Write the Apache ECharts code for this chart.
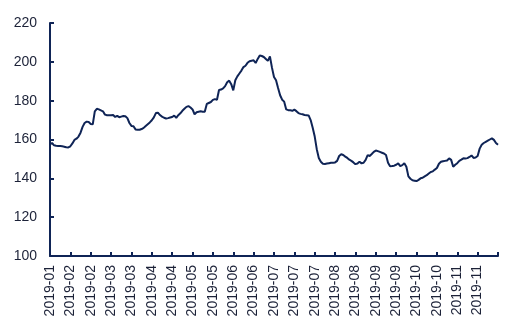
<!DOCTYPE html>
<html>
<head>
<meta charset="utf-8">
<script src="https://cdn.jsdelivr.net/npm/echarts@6/dist/echarts.min.js"></script>
<style>
  html, body { margin: 0; padding: 0; background: #fff; }
  #chart { width: 521px; height: 333px; }
</style>
</head>
<body>
<div id="chart"></div>
<script>
// one label every 10 points along the x axis
var tickLabels = ['2019-01', '2019-02', '2019-02', '2019-03', '2019-03', '2019-04', '2019-04',
    '2019-05', '2019-05', '2019-06', '2019-06', '2019-07', '2019-07', '2019-07', '2019-08',
    '2019-08', '2019-09', '2019-09', '2019-10', '2019-10', '2019-11', '2019-11'];

var values = [
    157.5, 158.2, 157, 156.8, 156.7, 156.6, 156.5, 156.3, 156, 155.9,
    156.5, 158, 159.8, 160.4, 161.5, 163.5, 166.5, 168.5, 169.2, 169,
    168, 167.8, 174.5, 175.8, 175.5, 175, 174.5, 172.8, 172.5, 172.5,
    172.5, 172.6, 171.6, 172.2, 171.5, 171.8, 172.1, 172, 171, 168.5,
    167, 166.8, 165.2, 165, 165, 165.4, 166, 167, 167.9, 168.8,
    169.9, 171.4, 173.6, 173.8, 172.6, 171.8, 171.2, 170.8, 171, 171.3,
    171.6, 172.3, 171.2, 172.5, 173.5, 174.8, 175.8, 176.8, 177.2, 176.5,
    175.5, 173, 174, 174.3, 174.5, 174.3, 174.3, 178.3, 178.8, 179.3,
    180.4, 180.8, 180.5, 185.5, 185.7, 186.3, 187.5, 189.5, 190.3, 188.5,
    185.3, 190.5, 192.5, 194, 195.5, 197.3, 198, 199.5, 200.3, 200.6,
    200.8, 199.4, 201.5, 203.3, 203, 202.5, 201.5, 200.5, 202.8, 197,
    192.2, 190.5, 186.5, 182.8, 180.5, 179.5, 175.5, 175.1, 175.1, 174.8,
    175.4, 174.6, 173.6, 173.2, 173, 172.6, 172.5, 172.4, 170, 166,
    161.5, 155, 150.5, 148.5, 147.5, 147.4, 147.6, 147.8, 148, 148,
    148.2, 149, 151.5, 152.4, 152, 151.2, 150.5, 149.6, 149, 148.2,
    147.3, 147.6, 148.6, 147.7, 148, 149.5, 152, 151.5, 152.5, 153.6,
    154.3, 154, 153.6, 153.2, 152.8, 152, 148, 146.2, 146.3, 146.5,
    147, 147.7, 146.3, 146.8, 147.8, 146, 141, 139.8, 139, 138.8,
    138.6, 139.2, 140, 140.3, 141, 141.6, 142.5, 143.3, 143.6, 144.5,
    145.3, 147.5, 148.5, 148.8, 149, 149.2, 150.3, 149.5, 146, 147,
    147.8, 149, 149.6, 150.3, 150.2, 150.4, 151, 151.8, 150.5, 150.7,
    151.5, 155.3, 157.3, 158.2, 158.8, 159.4, 160, 160.6, 159.8, 158.2, 157.3
];

var categories = [];
for (var i = 0; i < values.length; i++) {
    var g = Math.floor(i / 10);
    categories.push(g < tickLabels.length ? tickLabels[g] : '');
}

var navy = '#0f2456';
var textColor = '#1c2238';

var myChart = echarts.init(document.getElementById('chart'));
var option = {
    backgroundColor: '#fff',
    animation: false,
    grid: { left: 50, right: 23, top: 23, bottom: 77, containLabel: false },
    xAxis: {
        type: 'category',
        data: categories,
        boundaryGap: false,
        axisLine: { lineStyle: { color: navy, width: 2 } },
        axisTick: { show: true, inside: true, length: 4, interval: 9, lineStyle: { color: navy, width: 2 } },
        axisLabel: {
            interval: 9,
            rotate: 90,
            margin: 9,
            color: textColor,
            fontFamily: 'Liberation Sans, Arial, sans-serif',
            fontSize: 14
        },
        splitLine: { show: false }
    },
    yAxis: {
        type: 'value',
        min: 100,
        max: 220,
        interval: 20,
        axisLine: { show: true, lineStyle: { color: navy, width: 2 } },
        axisTick: { show: true, inside: true, length: 4, lineStyle: { color: navy, width: 2 } },
        axisLabel: {
            margin: 13,
            color: textColor,
            fontFamily: 'Liberation Sans, Arial, sans-serif',
            fontSize: 14
        },
        splitLine: { show: false }
    },
    series: [{
        type: 'line',
        data: values,
        showSymbol: false,
        lineStyle: { color: navy, width: 2 }
    }]
};
myChart.setOption(option);
</script>
</body>
</html>
